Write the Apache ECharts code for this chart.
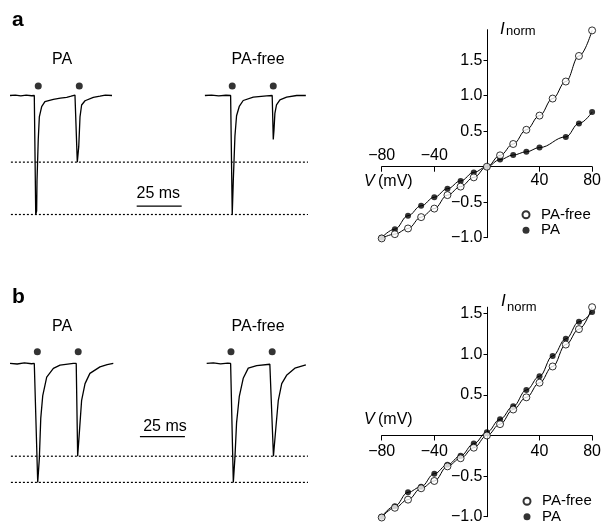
<!DOCTYPE html>
<html><head><meta charset="utf-8">
<script src="https://cdn.jsdelivr.net/npm/echarts@6/dist/echarts.min.js"></script>
<style>html,body{margin:0;padding:0;background:#fff}#c{width:604px;height:525px}</style>
</head><body><div id="c"></div>
<script>
// ---------- DATA ----------
// Current traces: [time (ms), normalised current]
const traceA_PA = [[0,0],[3,0.004],[6,-0.004],[9,0.003],[12,-0.002],[13.5,0],[14.3,-1.0],[14.8,-0.97],[15.0,-0.72],[15.7,-0.37],[16.3,-0.18],[17.6,-0.094],[19.4,-0.052],[24.1,-0.032],[28,-0.022],[31.5,-0.015],[34,-0.006],[36.1,0.004],[36.7,0],[37.4,-0.56],[38.2,-0.43],[38.9,-0.18],[39.8,-0.08],[41.7,-0.044],[46.3,-0.015],[50,-0.006],[53,0.003],[56.7,0]];
const traceA_PAfree = [[108.3,0],[112,0.004],[116,-0.003],[120,0.002],[122.6,0],[123.5,-1.0],[124.1,-0.71],[125,-0.34],[125.9,-0.17],[127.4,-0.092],[129.6,-0.042],[135.2,-0.013],[142.6,-0.003],[145.7,0],[146.3,-0.37],[146.7,-0.29],[147.2,-0.15],[148.1,-0.078],[150,-0.036],[153.7,-0.013],[159.3,0],[164.4,0]];
const traceB_PA = [[0,0],[4,-0.005],[8,0.004],[12,-0.003],[13.5,0],[15.4,-1.0],[16.3,-0.80],[17.1,-0.46],[18.2,-0.27],[20.4,-0.115],[24.1,-0.042],[27.8,-0.014],[31,-0.008],[35.2,0],[36.8,0],[37.6,-0.78],[38.5,-0.59],[39.8,-0.31],[41.7,-0.17],[44.4,-0.084],[50,-0.029],[54,-0.01],[57.4,0]];
const traceB_PAfree = [[109.3,0],[113,0.004],[117,-0.004],[121,0.003],[122.6,0],[124.1,-1.0],[125,-0.79],[125.9,-0.50],[127.4,-0.28],[129.6,-0.125],[132.4,-0.04],[137.1,-0.019],[144.4,-0.007],[145.4,0],[146.4,-0.78],[147.8,-0.53],[149.1,-0.31],[151,-0.17],[153.7,-0.10],[158.3,-0.04],[164.4,-0.013]];
// stimulus markers [time, level]
const stimA = [[15.7,0.08],[38.5,0.08],[123.5,0.08],[146.3,0.08]];
const stimB = [[15.2,0.098],[37.9,0.098],[122.8,0.098],[145.7,0.098]];
// dotted reference levels
const dottedA = [-1.0, -0.56];
const dottedB = [-1.0, -0.78];
const traceSpan = [0.5, 165.6];
// scale bars (ms)
const scaleBarLen = 25;
const scaleBarA = [70.4, -0.93];
const scaleBarB = [72.2, -0.616];

// I–V data
const voltages = [-80,-70,-60,-50,-40,-30,-20,-10,0,10,20,30,40,50,60,70,80];
const ivA_free = [-1.01,-0.95,-0.87,-0.71,-0.59,-0.40,-0.28,-0.15,0,0.16,0.32,0.52,0.72,0.96,1.20,1.56,1.92];
const ivA_pa   = [-1.0,-0.88,-0.69,-0.55,-0.43,-0.31,-0.20,-0.08,0,0.10,0.165,0.21,0.27,null,0.42,0.61,0.77];
const ivB_free = [-1.01,-0.89,-0.79,-0.65,-0.56,-0.38,-0.28,-0.15,0,0.14,0.32,0.47,0.65,0.85,1.12,1.31,1.58];
const ivB_pa   = [-1.0,-0.87,-0.70,-0.63,-0.47,-0.36,-0.25,-0.10,0.04,0.20,0.36,0.56,0.73,0.98,1.19,1.40,1.52];
const xRange = [-80, 80];
const yRangeA = [-1.0, 1.93];
const yRangeB = [-1.0, 1.58];
const xTickInterval = 40;
const yTickInterval = 0.5;

// ---------- CHART ----------
const FONT = '"Liberation Sans", Arial, Helvetica, sans-serif';
const fmtX = v => (v < 0 ? '\u2212' : '') + Math.abs(v);
const fmtY = v => v === 0 ? '' : (v < 0 ? '\u2212' : '') + Math.abs(v).toFixed(1);
const black = '#000';
const pairs = (xs, ys) => xs.map((x, i) => [x, ys[i]]).filter(p => p[1] !== null);

const grids = [
  {left: 10, top: 47.9, width: 298, height: 190.4},
  {left: 381.7, top: 29.7, width: 211.6, height: 208},
  {left: 10, top: 315.8, width: 298, height: 190.4},
  {left: 381.7, top: 307.2, width: 211.6, height: 209.5}
];
// offsets that put each I–V axis through the origin
const zeroOffX = g => -(0 - xRange[0]) / (xRange[1] - xRange[0]) * g.width;
const zeroOffY = (g, r) => -(0 - r[0]) / (r[1] - r[0]) * g.height;

const chart = echarts.init(document.getElementById('c'), null, {renderer: 'canvas'});

const hiddenX = gi => ({gridIndex: gi, type: 'value', min: 0, max: 165.6, show: false});
const hiddenY = gi => ({gridIndex: gi, type: 'value', min: -1.2, max: 0.4, show: false});
const lineSt = {color: black, width: 1};
const ivLabel = (extra) => Object.assign({color: black, fontSize: 16, fontFamily: FONT}, extra);

function ivX(gi, yr, extra) {
  return Object.assign({
    gridIndex: gi, type: 'value', min: xRange[0], max: xRange[1], interval: xTickInterval, position: 'bottom',
    offset: zeroOffY(grids[gi], yr),
    axisLine: {onZero: false, lineStyle: lineSt}, axisTick: {length: 5, lineStyle: lineSt},
    splitLine: {show: false}}, extra);
}
function ivY(gi, yr) {
  return {gridIndex: gi, type: 'value', min: yr[0], max: yr[1], interval: yTickInterval, position: 'left',
    offset: zeroOffX(grids[gi]),
    axisLine: {onZero: false, lineStyle: lineSt}, axisTick: {length: 4, lineStyle: lineSt},
    axisLabel: ivLabel({margin: 5, formatter: fmtY, showMaxLabel: false}), splitLine: {show: false}};
}

const xAxes = [
  hiddenX(0),
  ivX(1, yRangeA, {axisLabel: ivLabel({margin: 6, formatter: v => v > 0 ? fmtX(v) : ''})}),
  hiddenX(2),
  ivX(3, yRangeB, {axisLabel: ivLabel({margin: 8, formatter: v => v !== 0 ? fmtX(v) : ''})}),
  ivX(1, yRangeA, {axisLine: {show: false, onZero: false}, axisTick: {show: false},
    axisLabel: ivLabel({inside: true, margin: 3, formatter: v => v < 0 ? fmtX(v) : ''})})
];
const yAxes = [hiddenY(0), ivY(1, yRangeA), hiddenY(2), ivY(3, yRangeB)];

function traceSeries(data, xi, yi) {
  return {type: 'line', xAxisIndex: xi, yAxisIndex: yi, data: data, showSymbol: false, silent: true, clip: false,
          lineStyle: {color: black, width: 1.3}, z: 3};
}
function dotted(level, xi, yi) {
  return {type: 'line', xAxisIndex: xi, yAxisIndex: yi, data: [[traceSpan[0], level], [traceSpan[1], level]],
          showSymbol: false, silent: true, clip: false, lineStyle: {color: black, width: 1.2, type: [2, 2]}, z: 2};
}
function scaleBar(sb, xi, yi) {
  return {type: 'line', xAxisIndex: xi, yAxisIndex: yi, data: [[sb[0], sb[1]], [sb[0] + scaleBarLen, sb[1]]],
          showSymbol: false, silent: true, clip: false, lineStyle: {color: black, width: 1.2}, z: 2};
}
function stim(data, xi, yi) {
  return {type: 'scatter', xAxisIndex: xi, yAxisIndex: yi, data: data, symbol: 'circle', symbolSize: 7,
          itemStyle: {color: black}, silent: true, clip: false, z: 3};
}
function fit(name, data, xi, yi) {
  return {type: 'line', name: name, xAxisIndex: xi, yAxisIndex: yi, data: data, showSymbol: false,
          smooth: 0.4, smoothMonotone: 'x', connectNulls: true, silent: true, clip: false,
          lineStyle: {color: black, width: 1}, z: 2};
}
function ivPts(name, data, xi, yi, open) {
  return {type: 'scatter', name: name, xAxisIndex: xi, yAxisIndex: yi, data: data, symbol: 'circle',
          symbolSize: open ? 7 : 6, silent: true, clip: false,
          itemStyle: open ? {color: '#fff', borderColor: black, borderWidth: 1} : {color: black},
          z: open ? 5 : 4};
}

const series = [
  traceSeries(traceA_PA, 0, 0), traceSeries(traceA_PAfree, 0, 0),
  ...dottedA.map(l => dotted(l, 0, 0)), scaleBar(scaleBarA, 0, 0), stim(stimA, 0, 0),
  traceSeries(traceB_PA, 2, 2), traceSeries(traceB_PAfree, 2, 2),
  ...dottedB.map(l => dotted(l, 2, 2)), scaleBar(scaleBarB, 2, 2), stim(stimB, 2, 2),
  fit('fitA free', pairs(voltages, ivA_free), 1, 1), fit('fitA pa', voltages.map((x, i) => [x, ivA_pa[i]]), 1, 1),
  ivPts('PA', pairs(voltages, ivA_pa), 1, 1, false), ivPts('PA-free', pairs(voltages, ivA_free), 1, 1, true),
  fit('fitB free', pairs(voltages, ivB_free), 3, 3), fit('fitB pa', pairs(voltages, ivB_pa), 3, 3),
  ivPts('PA', pairs(voltages, ivB_pa), 3, 3, false), ivPts('PA-free', pairs(voltages, ivB_free), 3, 3, true)
];

const txt = (x, y, text, font, align) => ({type: 'text', x: x, y: y, silent: true,
  style: {text: text, font: font, fill: black, align: align || 'left', verticalAlign: 'middle'}});
const F16 = '16px ' + FONT;
const vLabel = (x, y) => ({type: 'text', x: x, y: y, silent: true, style: {
  rich: {i: {fontStyle: 'italic', fontSize: 16, fontFamily: FONT}, n: {fontSize: 16, fontFamily: FONT}},
  text: '{i|V} {n|(mV)}', fill: black, verticalAlign: 'middle'}});

const legendCommon = {orient: 'vertical', itemWidth: 20, itemHeight: 7, itemGap: 0, padding: 0, selectedMode: false,
  data: ['PA-free', 'PA'], textStyle: {color: black, fontSize: 15, fontFamily: FONT, lineHeight: 15.5}};

chart.setOption({
  animation: false,
  backgroundColor: '#fff',
  grid: grids,
  xAxis: xAxes,
  yAxis: yAxes,
  legend: [
    Object.assign({left: 521.5, top: 207}, legendCommon),
    Object.assign({left: 522.5, top: 493.5}, legendCommon)
  ],
  series: series,
  graphic: [
    txt(12, 20, 'a', 'bold 21px ' + FONT),
    txt(12, 297, 'b', 'bold 21px ' + FONT),
    txt(62, 60, 'PA', F16, 'center'),
    txt(258, 60, 'PA-free', F16, 'center'),
    txt(62, 327, 'PA', F16, 'center'),
    txt(258, 327, 'PA-free', F16, 'center'),
    txt(158.3, 193.5, '25 ms', F16, 'center'),
    txt(165, 427, '25 ms', F16, 'center'),
    txt(500, 29, 'I', 'italic 17px ' + FONT),
    txt(506, 31.5, 'norm', '13px ' + FONT),
    txt(501, 301, 'I', 'italic 17px ' + FONT),
    txt(507, 307, 'norm', '13px ' + FONT),
    vLabel(364, 182),
    vLabel(364, 420)
  ]
});
</script></body></html>
